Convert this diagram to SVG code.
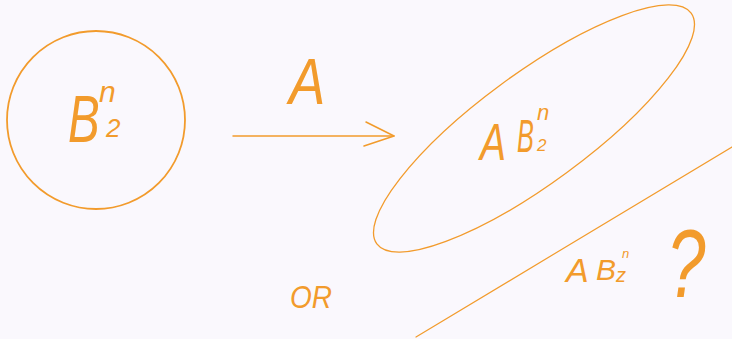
<svg xmlns="http://www.w3.org/2000/svg" width="732" height="339" viewBox="0 0 732 339">
<style>
.s{fill:none;stroke:#f29b2c;stroke-linecap:round;stroke-linejoin:round}
.t{fill:#f29b2c;font-family:"Liberation Sans","DejaVu Sans",sans-serif;font-style:italic}
</style>
<rect width="732" height="339" fill="#faf8fd"/>
<g id="ball">
<circle class="s" cx="96" cy="120" r="89" stroke-width="1.8"/>
<text class="t" x="0" y="0" font-size="66" transform="translate(68 142) scale(0.72 1)">B</text>
<text class="t" x="99" y="102" font-size="30">n</text>
<text class="t" x="106" y="137" font-size="26">2</text>
</g>
<g id="image-ellipse">
<ellipse class="s" cx="534" cy="128.5" rx="195" ry="55" transform="rotate(-36.3 534 128.5)" stroke-width="1.3"/>
<text class="t" x="0" y="0" font-size="52" transform="translate(480 160) scale(0.75 1)">A</text>
<text class="t" x="0" y="0" font-size="46" transform="translate(517 152) scale(0.55 1)">B</text>
<text class="t" x="537" y="120" font-size="22">n</text>
<text class="t" x="537" y="151" font-size="17">2</text>
</g>
<g id="image-line">
<line class="s" x1="416" y1="337" x2="732" y2="147" stroke-width="1.2"/>
<text class="t" x="566" y="282" font-size="34">A</text>
<text class="t" x="596" y="280" font-size="30">B</text>
<text class="t" x="622" y="258" font-size="13">n</text>
<text class="t" x="616" y="282" font-size="20">z</text>
<text class="t" x="0" y="0" font-size="96" transform="translate(667 297) scale(0.72 1)">?</text>
</g>
<g id="or">
<text class="t" x="290" y="308" font-size="31" textLength="42" lengthAdjust="spacingAndGlyphs">OR</text>
</g>
<g id="connectors">
<line class="s" x1="233" y1="136" x2="394" y2="136" stroke-width="1.5"/>
<polyline class="s" points="366,122 394,136 364,146" stroke-width="1.5"/>
<text class="t" x="0" y="0" font-size="64" transform="translate(289 104) scale(0.85 1)">A</text>
</g>
</svg>
